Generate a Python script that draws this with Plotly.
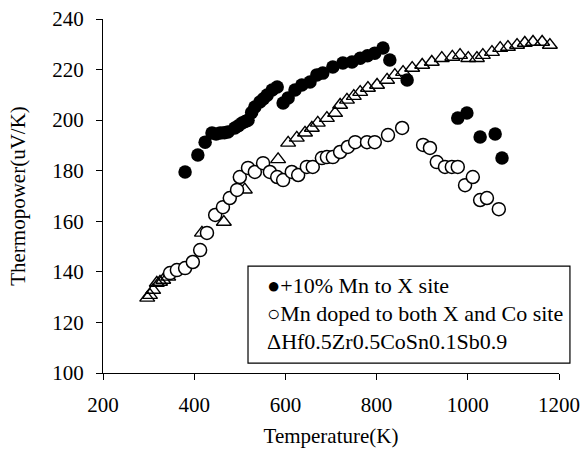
import plotly.graph_objects as go

# Series 1: +10% Mn to X site (filled circles)
t_mn_x = [380, 408, 424, 439, 448, 457, 466, 474, 489, 497, 505, 512, 518, 526, 533, 544, 552, 560, 571, 582,
          595, 606, 621, 636, 654, 669, 682, 704, 726, 746, 764, 780, 796, 814, 829, 867,
          978, 998, 1027, 1060, 1075]
s_mn_x = [179.5, 186.2, 191.3, 194.9, 194.5, 194.9, 195.0, 195.3, 196.9, 197.8, 198.9, 199.5, 200.0, 203.0, 205.2, 207.2, 208.5, 209.9, 211.9, 213.1,
          206.8, 208.8, 211.9, 213.9, 215.1, 217.9, 218.6, 221.0, 222.6, 223.0, 224.5, 225.5, 226.5, 228.5, 223.8, 215.9,
          200.8, 202.8, 193.3, 194.5, 185.0]

# Series 2: Mn doped to both X and Co site (open circles)
t_mn_xco = [347, 362, 380, 397, 413, 428, 446, 463, 478, 494, 500, 518, 533, 551, 566, 582, 595, 614, 628, 647,
            660, 680, 691, 704, 720, 737, 753, 779, 796, 825, 856,
            902, 917, 932, 950, 965, 978, 994, 1011, 1027, 1042, 1068]
s_mn_xco = [139.5, 140.7, 141.5, 143.9, 148.6, 155.4, 162.5, 165.6, 169.2, 172.4, 177.5, 181.1, 179.5, 183.0, 179.5, 177.5, 176.3, 179.5, 178.3, 181.5,
            181.5, 185.0, 185.4, 185.4, 187.4, 189.4, 191.3, 191.3, 191.3, 194.1, 196.9,
            190.2, 189.0, 183.4, 181.5, 181.5, 181.5, 174.3, 177.5, 168.4, 169.2, 164.8]

# Series 3: Hf0.5Zr0.5CoSn0.1Sb0.9 (open triangles)
t_base = [297, 303, 310, 318, 325, 332, 343, 417, 465, 511, 584, 606, 625, 643, 658, 671, 691, 709, 720, 735,
          750, 764, 781, 801, 823, 840, 858, 878, 900, 921, 943, 966, 983, 1001, 1020, 1033, 1053, 1071,
          1088, 1108, 1125, 1143, 1163, 1180]
s_base = [129.7, 130.8, 132.8, 135.6, 136.0, 136.8, 138.0, 155.4, 159.7, 172.5, 184.5, 191.0, 193.0, 195.0, 196.9, 198.9, 200.8, 202.8, 206.0, 208.0,
          209.5, 211.1, 212.7, 213.9, 215.9, 217.8, 219.0, 220.6, 221.8, 223.0, 224.5, 225.0, 225.7, 224.5, 224.5, 225.7, 226.9, 228.5,
          228.9, 229.7, 230.5, 230.9, 230.9, 229.7]

legend_labels = ["●+10% Mn to X site", "○Mn doped to both X and Co site", "ΔHf0.5Zr0.5CoSn0.1Sb0.9"]
x_ticks = [200, 400, 600, 800, 1000, 1200]
y_ticks = [100, 120, 140, 160, 180, 200, 220, 240]

FONT = "Liberation Serif"

fig = go.Figure()
fig.add_trace(go.Scatter(x=t_base, y=s_base, mode="markers", name=legend_labels[2],
                         marker=dict(symbol="triangle-up-open", size=13, color="black", line=dict(width=1.4))))
fig.add_trace(go.Scatter(x=t_mn_xco, y=s_mn_xco, mode="markers", name=legend_labels[1],
                         marker=dict(symbol="circle", size=13, color="white", line=dict(color="black", width=1.5))))
fig.add_trace(go.Scatter(x=t_mn_x, y=s_mn_x, mode="markers", name=legend_labels[0],
                         marker=dict(symbol="circle", size=13.5, color="black", line=dict(width=0))))

axis_common = dict(showgrid=False, zeroline=False, showline=True, linecolor="black", linewidth=1.3,
                   ticks="outside", ticklen=6, tickwidth=1.3, tickcolor="black", automargin=False,
                   tickfont=dict(family=FONT, size=21, color="black"))

fig.update_xaxes(range=[200, 1200], tickvals=x_ticks, ticklabelstandoff=7,
                 title=dict(text="Temperature(K)", font=dict(family=FONT, size=21, color="black"), standoff=11),
                 **axis_common)
fig.update_yaxes(range=[100, 240], tickvals=y_ticks, ticklabelstandoff=8,
                 title=dict(text="Thermopower(uV/K)", font=dict(family=FONT, size=21, color="black"), standoff=20),
                 **axis_common)

# legend box drawn as shape + text annotations
fig.add_shape(type="rect", xref="paper", yref="paper", x0=0.318, x1=1.024, y0=0.028, y1=0.302,
              line=dict(color="black", width=1.2), fillcolor="white", layer="above")
for lab, yp in zip(legend_labels, [0.248, 0.167, 0.088]):
    fig.add_annotation(text=lab, xref="paper", yref="paper", x=0.355, y=yp, xanchor="left", yanchor="middle",
                       showarrow=False, font=dict(family=FONT, size=22, color="black"))

fig.update_layout(width=582, height=452, margin=dict(l=103, r=23, t=19, b=79),
                  plot_bgcolor="white", paper_bgcolor="white", showlegend=False)

fig.write_html("out.html")
